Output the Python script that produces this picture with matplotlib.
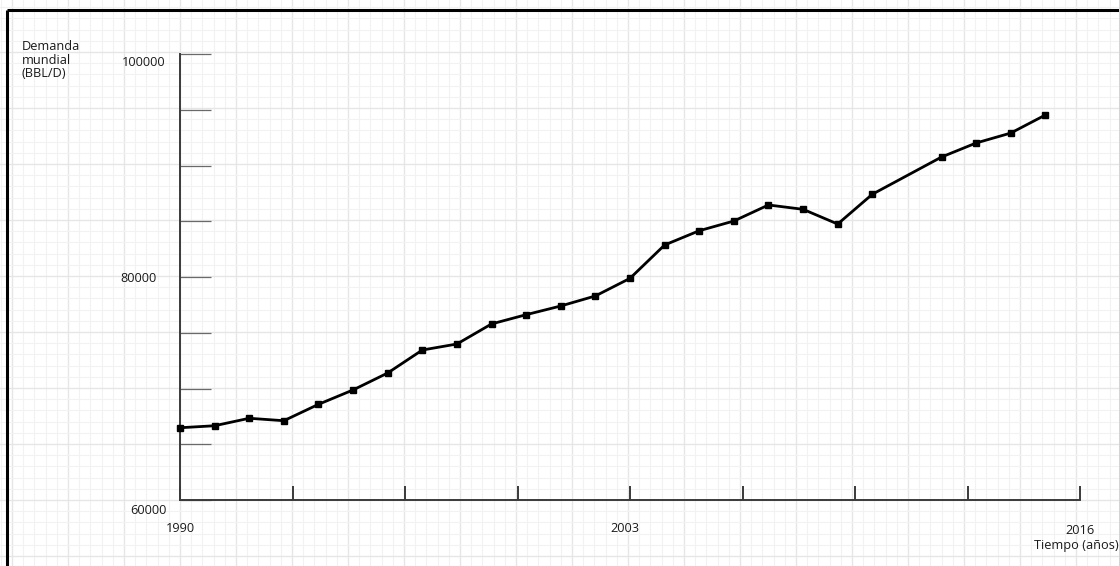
import matplotlib
matplotlib.use("Agg")
import matplotlib.pyplot as plt
import numpy as np

# ---- data ----
years = [1990, 1991, 1992, 1993, 1994, 1995, 1996, 1997, 1998, 1999, 2000,
         2001, 2002, 2003, 2004, 2005, 2006, 2007, 2008, 2009, 2010,
         2012, 2013, 2014, 2015]
demand = [66480, 66660, 67330, 67110, 68580, 69870, 71390, 73450, 73990,
          75790, 76620, 77400, 78300, 79880, 82870, 84150, 85020, 86460,
          86070, 84750, 87420, 90760, 92020, 92910, 94530]
y_tick_values = [60000, 65000, 70000, 75000, 80000, 85000, 90000, 95000, 100000]
y_label_values = [100000, 80000, 60000]
x_label_values = [1990, 2003, 2016]
x_min, x_max = 1990, 2016
y_min, y_max = 60000, 100000

W, H = 1119, 566
fig = plt.figure(figsize=(W / 100, H / 100), dpi=100)
fig.patch.set_facecolor("white")

# ---- background graph-paper grid ----
bg = fig.add_axes([0, 0, 1, 1], zorder=0)
bg.set_xlim(0, W)
bg.set_ylim(H, 0)
bg.axis("off")
step = 11.2
ox, oy = 180, 500
k0 = int(np.floor(-ox / step)) - 1
for k in range(k0, int((W - ox) / step) + 2):
    x = ox + k * step
    major = (k % 5 == 0)
    bg.axvline(x, color="#e6e6e6" if major else "#f2f2f2", lw=1.0 if major else 0.8, zorder=0)
k0 = int(np.floor(-(H - oy) / step)) - 1
for k in range(k0, int(oy / step) + 2):
    y = oy - k * step
    major = (k % 5 == 0)
    bg.axhline(y, color="#e6e6e6" if major else "#f2f2f2", lw=1.0 if major else 0.8, zorder=0)

# frame (left & top visible)
bg.plot([7, 7], [10, H], color="black", lw=2.2, solid_capstyle="butt")
bg.plot([7, W], [10, 10], color="black", lw=2.2, solid_capstyle="butt")

# ---- main axes ----
left, right = 180 / W, 1080 / W
bottom, top = 1 - 500 / H, 1 - 54 / H
ax = fig.add_axes([left, bottom, right - left, top - bottom], zorder=2)
ax.patch.set_alpha(0)
ax.set_xlim(x_min, x_max)
ax.set_ylim(y_min, y_max)

ax.plot(years, demand, color="black", lw=2.0, marker="s", markersize=4.2,
        clip_on=False, zorder=5)

for s in ["top", "right"]:
    ax.spines[s].set_visible(False)
for s in ["left", "bottom"]:
    ax.spines[s].set_color("#3a3a3a")
    ax.spines[s].set_linewidth(1.4)

ax.set_yticks(y_tick_values)
ax.set_yticklabels([])
ax.tick_params(axis="y", direction="in", length=22, width=0.9, color="#6a6a6a")
x_ticks = np.linspace(x_min, x_max, 9)
ax.set_xticks(x_ticks)
ax.set_xticklabels([])
ax.tick_params(axis="x", direction="in", length=10, width=1.4, color="#3a3a3a")

font = dict(family="Open Sans", fontsize=9.2, color="#1a1a1a")

# y labels
y_offsets = {100000: (-15, -8), 80000: (-23, -2), 60000: (-13, -10)}
for v in y_label_values:
    dx, dy = y_offsets[v]
    ax.annotate(f"{v}", xy=(x_min, v), xycoords="data", xytext=(dx, dy),
                textcoords="offset pixels", ha="right", va="center",
                annotation_clip=False, **font)

# x labels
x_offsets = {1990: (0, -28), 2003: (-5, -28), 2016: (0, -30)}
for v in x_label_values:
    dx, dy = x_offsets[v]
    ax.annotate(f"{v}", xy=(v, y_min), xycoords="data", xytext=(dx, dy),
                textcoords="offset pixels", ha="center", va="center",
                annotation_clip=False, **font)

# axis titles
fig.text(22 / W, 1 - 40 / H, "Demanda\nmundial\n(BBL/D)", ha="left", va="top",
         linespacing=1.05, **font)
fig.text(1119 / W, 1 - 545 / H, "Tiempo (años)", ha="right", va="center", **font)

fig.savefig("out.png", dpi=100, facecolor="white")
